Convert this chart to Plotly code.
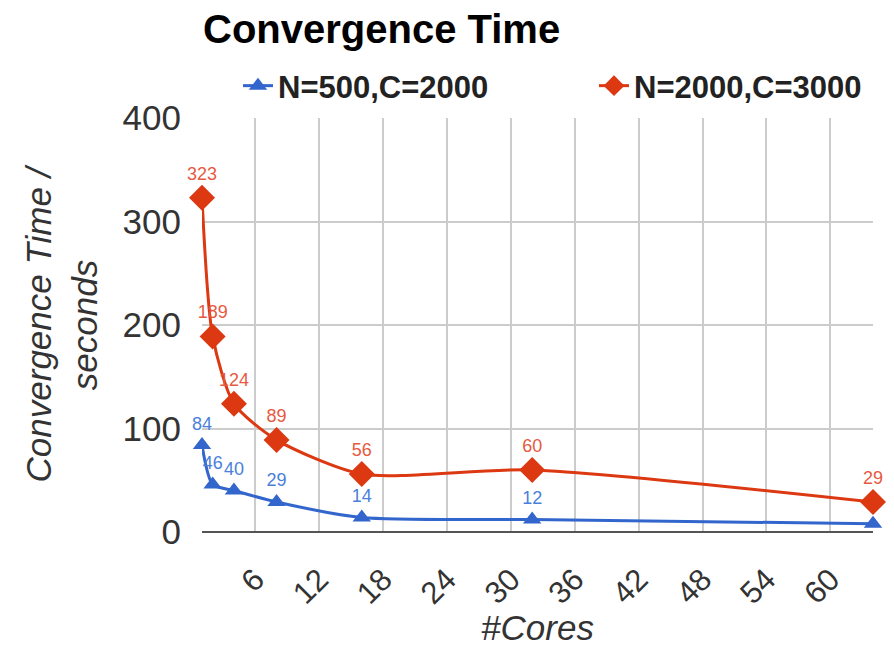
import plotly.graph_objects as go

cores = [1, 2, 4, 8, 16, 32, 64]
small_series = [84, 46, 40, 29, 14, 12, 8]
large_series = [323, 189, 124, 89, 56, 60, 29]
small_name = "N=500,C=2000"
large_name = "N=2000,C=3000"
x_ticks = [6, 12, 18, 24, 30, 36, 42, 48, 54, 60]
y_ticks = [0, 100, 200, 300, 400]

FONT = "Liberation Sans, Arial, sans-serif"
BLUE = "#3366cc"
RED = "#dc3912"

fig = go.Figure()
fig.add_trace(go.Scatter(
    x=cores, y=small_series, name=small_name, mode="lines+markers+text",
    line=dict(color=BLUE, width=3, shape="spline", smoothing=0.7),
    marker=dict(symbol="triangle-up", size=16, color=BLUE),
    text=[str(v) for v in small_series], textposition="top center",
    textfont=dict(family=FONT, size=18, color="#4a7fdb"),
    cliponaxis=False, legend="legend",
))
fig.add_trace(go.Scatter(
    x=cores, y=large_series, name=large_name, mode="lines+markers+text",
    line=dict(color=RED, width=3, shape="spline", smoothing=0.7),
    marker=dict(symbol="diamond", size=20, color=RED),
    text=[str(v) for v in large_series], textposition="top center",
    textfont=dict(family=FONT, size=18, color="#e65a3f"),
    cliponaxis=False, legend="legend2",
))

legend_common = dict(orientation="h", xref="container", yref="container",
                     xanchor="left", y=1 - 86 / 647, yanchor="middle",
                     font=dict(size=31, color="#222", family=FONT, weight="bold"),
                     bgcolor="rgba(0,0,0,0)")

fig.update_layout(
    width=894, height=647,
    margin=dict(l=202, r=21, t=118, b=115, autoexpand=False),
    paper_bgcolor="white", plot_bgcolor="white",
    font=dict(family=FONT, color="#222"),
    title=dict(text="<b>Convergence Time</b>", x=203 / 894, xanchor="left",
               xref="container", y=1 - 29 / 647, yanchor="middle", yref="container",
               font=dict(size=40, color="#000", family=FONT)),
    legend=dict(x=238 / 894, **legend_common),
    legend2=dict(x=594 / 894, **legend_common),
    showlegend=True,
)

fig.update_xaxes(
    range=[1, 64], tickvals=x_ticks, tickangle=-45,
    showgrid=True, gridcolor="#cccccc", gridwidth=1.5,
    zeroline=False, showline=False, ticks="",
    tickfont=dict(size=31, color="#333", family=FONT),
    ticklabelstandoff=22,
    title=dict(text="<i>#Cores</i>", font=dict(size=35, color="#333", family=FONT), standoff=6),
)
fig.update_yaxes(
    range=[0, 400], tickvals=y_ticks,
    showgrid=True, gridcolor="#cccccc", gridwidth=1.5,
    zeroline=True, zerolinecolor="#555", zerolinewidth=2,
    showline=False, ticks="",
    tickfont=dict(size=35, color="#333", family=FONT),
    ticklabelstandoff=20,
    title=dict(text="<i>Convergence Time /<br>seconds</i>",
               font=dict(size=35, color="#333", family=FONT), standoff=14),
)

fig.write_html("out.html")
